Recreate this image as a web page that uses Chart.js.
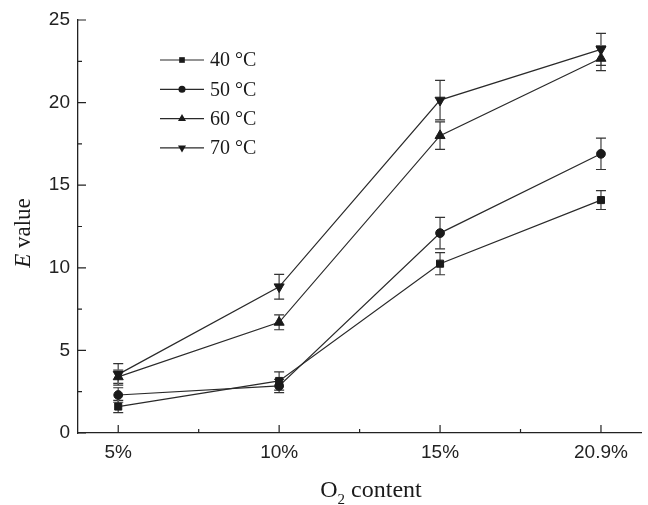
<!DOCTYPE html>
<html lang="en">
<head>
    <meta charset="UTF-8">
    <title>E value vs O2 content</title>
    <script src="https://cdn.jsdelivr.net/npm/chart.js"></script>
    <style>
        body { margin: 0; padding: 0; background: #fff; }
        #chart-container { position: relative; width: 648px; height: 505px; }
    </style>
</head>
<body>
    <div id="chart-container">
        <canvas id="eChart"></canvas>
    </div>
    <script>
        // Categories and tick values
        const xLabels = ['5%', '10%', '15%', '20.9%'];
        const yTicks = [0, 5, 10, 15, 20, 25];
        const seriesNames = ['40 \u00B0C', '50 \u00B0C', '60 \u00B0C', '70 \u00B0C'];

        // E value per series, with error bar half-heights
        const e40 = [1.6, 3.15, 10.25, 14.1];
        const err40 = [0.37, 0.55, 0.67, 0.57];
        const e50 = [2.3, 2.85, 12.1, 16.9];
        const err50 = [0.44, 0.4, 0.95, 0.95];
        const e60 = [3.4, 6.7, 18.0, 22.68];
        const err60 = [0.4, 0.45, 0.83, 0.75];
        const e70 = [3.55, 8.85, 20.15, 23.22];
        const err70 = [0.65, 0.75, 1.2, 0.97];

        const ink = '#1a1a1a';

        function makeSet(name, vals, errs, style, radius, rotation) {
            return {
                label: name,
                data: vals.map((v, i) => ({ x: i, y: v })),
                errors: errs,
                borderColor: '#2a2a2a',
                borderWidth: 1.2,
                backgroundColor: ink,
                pointBackgroundColor: ink,
                pointBorderColor: ink,
                pointBorderWidth: 1,
                pointStyle: style,
                pointRadius: radius,
                pointRotation: rotation,
                tension: 0
            };
        }

        // error bars behind the markers
        const errorBars = {
            id: 'errorBars',
            beforeDatasetsDraw(chart) {
                const { ctx, scales: { x, y } } = chart;
                ctx.save();
                chart.data.datasets.forEach(ds => {
                    ds.data.forEach((p, i) => {
                        const px = x.getPixelForValue(p.x);
                        const top = y.getPixelForValue(p.y + ds.errors[i]);
                        const bot = y.getPixelForValue(p.y - ds.errors[i]);
                        ctx.strokeStyle = '#666';
                        ctx.lineWidth = 1.5;
                        ctx.beginPath();
                        ctx.moveTo(px, top); ctx.lineTo(px, bot);
                        ctx.stroke();
                        ctx.strokeStyle = '#333';
                        ctx.lineWidth = 1.2;
                        ctx.beginPath();
                        ctx.moveTo(px - 5, top); ctx.lineTo(px + 5, top);
                        ctx.moveTo(px - 5, bot); ctx.lineTo(px + 5, bot);
                        ctx.stroke();
                    });
                });
                ctx.restore();
            }
        };

        // inward tick marks, major and minor
        const innerTicks = {
            id: 'innerTicks',
            afterDraw(chart) {
                const { ctx, scales: { x, y }, chartArea: a } = chart;
                ctx.save();
                ctx.strokeStyle = '#222';
                ctx.lineWidth = 1.2;
                ctx.beginPath();
                xLabels.forEach((l, i) => {
                    const px = x.getPixelForValue(i);
                    ctx.moveTo(px, a.bottom); ctx.lineTo(px, a.bottom - 8);
                    if (i < xLabels.length - 1) {
                        const mx = x.getPixelForValue(i + 0.5);
                        ctx.moveTo(mx, a.bottom); ctx.lineTo(mx, a.bottom - 4);
                    }
                });
                yTicks.forEach((v, i) => {
                    const py = y.getPixelForValue(v);
                    ctx.moveTo(a.left, py); ctx.lineTo(a.left + 8, py);
                    if (i < yTicks.length - 1) {
                        const my = y.getPixelForValue(v + 2.5);
                        ctx.moveTo(a.left, my); ctx.lineTo(a.left + 4, my);
                    }
                });
                ctx.stroke();
                ctx.restore();
            }
        };

        function marker(ctx, style, r, rot, cx, cy) {
            ctx.beginPath();
            if (style === 'rect') {
                const s = r * Math.SQRT1_2;
                ctx.rect(cx - s, cy - s, 2 * s, 2 * s);
            } else if (style === 'circle') {
                ctx.arc(cx, cy, r, 0, Math.PI * 2);
            } else {
                const dir = rot === 180 ? -1 : 1;
                ctx.moveTo(cx, cy - dir * r);
                ctx.lineTo(cx + r * 0.866, cy + dir * r * 0.5);
                ctx.lineTo(cx - r * 0.866, cy + dir * r * 0.5);
                ctx.closePath();
            }
            ctx.fill();
        }

        // legend with line + marker, and axis titles with italic / subscript
        const decorations = {
            id: 'decorations',
            afterDraw(chart) {
                const { ctx } = chart;
                ctx.save();
                ctx.fillStyle = ink;
                ctx.strokeStyle = '#2a2a2a';
                ctx.lineWidth = 1.2;
                ctx.font = '20px "Liberation Serif", "Times New Roman", serif';
                ctx.textBaseline = 'middle';
                chart.data.datasets.forEach((ds, i) => {
                    const ly = 60 + i * 29.3;
                    ctx.beginPath();
                    ctx.moveTo(160, ly); ctx.lineTo(204, ly);
                    ctx.stroke();
                    marker(ctx, ds.pointStyle, ds.pointRadius * 0.8, ds.pointRotation, 182, ly);
                    ctx.fillText(ds.label, 210, ly + 1);
                });

                // y title
                ctx.save();
                ctx.translate(30, 233);
                ctx.rotate(-Math.PI / 2);
                ctx.textBaseline = 'alphabetic';
                const fi = 'italic 23px "Liberation Serif", serif';
                const fn = '23px "Liberation Serif", serif';
                ctx.font = fi; const wE = ctx.measureText('E').width;
                ctx.font = fn; const wV = ctx.measureText(' value').width;
                let sx = -(wE + wV) / 2;
                ctx.font = fi; ctx.fillText('E', sx, 0);
                ctx.font = fn; ctx.fillText(' value', sx + wE, 0);
                ctx.restore();

                // x title
                ctx.textBaseline = 'alphabetic';
                const fx = '24px "Liberation Serif", serif';
                const fs = '15px "Liberation Serif", serif';
                ctx.font = fx; const wO = ctx.measureText('O').width;
                ctx.font = fs; const w2 = ctx.measureText('2').width;
                ctx.font = fx; const wC = ctx.measureText(' content').width;
                let tx = 371 - (wO + w2 + wC) / 2;
                ctx.font = fx; ctx.fillText('O', tx, 497);
                ctx.font = fs; ctx.fillText('2', tx + wO, 504);
                ctx.font = fx; ctx.fillText(' content', tx + wO + w2, 497);
                ctx.restore();
            }
        };

        const tickFont = { family: '"Liberation Sans", Arial, sans-serif', size: 19 };

        new Chart(document.getElementById('eChart'), {
            type: 'line',
            data: {
                datasets: [
                    makeSet(seriesNames[0], e40, err40, 'rect', 5, 0),
                    makeSet(seriesNames[1], e50, err50, 'circle', 4.4, 0),
                    makeSet(seriesNames[2], e60, err60, 'triangle', 5.8, 0),
                    makeSet(seriesNames[3], e70, err70, 'triangle', 5.8, 180)
                ]
            },
            options: {
                responsive: true,
                maintainAspectRatio: false,
                animation: false,
                layout: { padding: { top: 20, right: 3, left: 0, bottom: 0 } },
                plugins: { legend: { display: false }, tooltip: { enabled: false } },
                scales: {
                    x: {
                        type: 'linear',
                        min: -0.25,
                        max: 3.25,
                        afterBuildTicks: s => { s.ticks = xLabels.map((l, i) => ({ value: i })); },
                        afterFit: s => { s.height = 72; },
                        grid: { display: false, drawTicks: false },
                        border: { display: true, color: '#222', width: 1.3 },
                        ticks: {
                            font: tickFont, color: '#222', padding: 8,
                            maxRotation: 0, autoSkip: false,
                            callback: v => xLabels[v] !== undefined ? xLabels[v] : ''
                        }
                    },
                    y: {
                        min: 0,
                        max: 25,
                        afterBuildTicks: s => { s.ticks = yTicks.map(v => ({ value: v })); },
                        afterFit: s => { s.width = 78; },
                        grid: { display: false, drawTicks: false },
                        border: { display: true, color: '#222', width: 1.3 },
                        ticks: { font: tickFont, color: '#222', padding: 8 }
                    }
                }
            },
            plugins: [errorBars, innerTicks, decorations]
        });
    </script>
</body>
</html>
